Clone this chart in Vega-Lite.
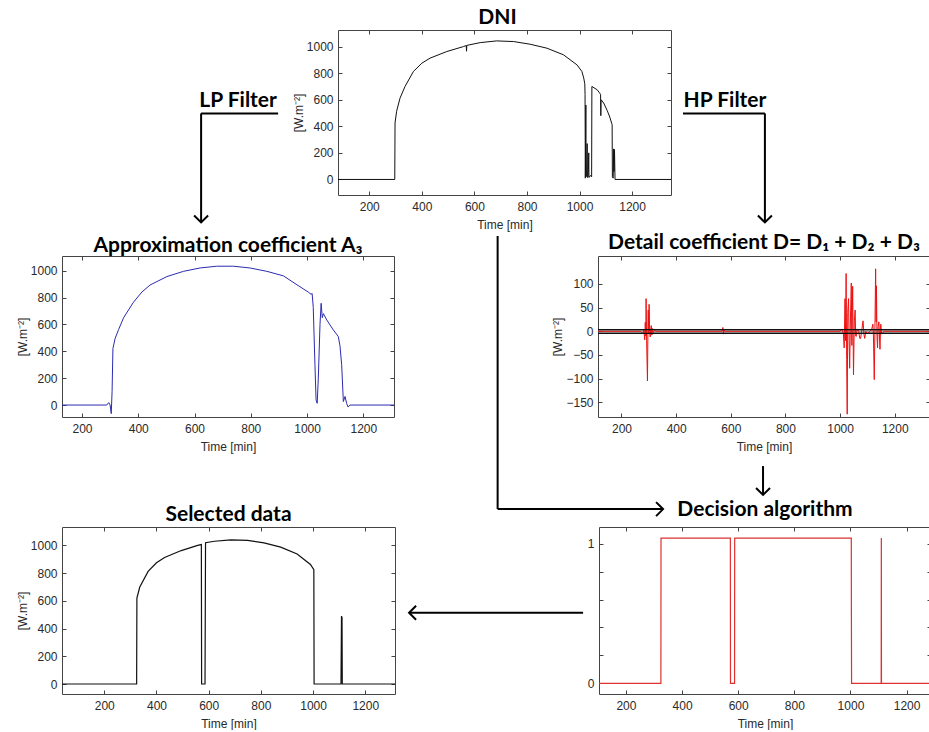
{
  "$schema": "https://vega.github.io/schema/vega-lite/v6.json",
  "padding": {"left": 15, "top": 6, "right": 0, "bottom": 0},
  "background": "white",
  "bounds": "full",
  "spacing": -39,
  "columns": 1,
  "align": "each",
  "config": {
    "view": {"stroke": "#444", "strokeWidth": 1},
    "axis": {"grid": false, "domain": false, "tickColor": "#444", "tickSize": -4, "labelFont": "Liberation Sans", "labelFontSize": 12, "labelColor": "#2a2a2a", "labelPadding": 9, "titleFont": "Liberation Sans", "titleFontSize": 12, "titleFontWeight": "normal", "titleColor": "#2a2a2a", "titlePadding": 4, "format": "d"},
    "axisX": {"labelPadding": 10, "titlePadding": 7},
    "axisY": {"labelPadding": 9, "titlePadding": 1},
    "title": {"font": "Lato", "fontSize": 21, "fontWeight": "bold", "color": "#000", "offset": 3, "anchor": "middle"}
  },
  "datasets": {
    "dni": [
      {"t":80,"v":0},{"t":297,"v":0},{"t":298,"v":425},{"t":304,"v":513},{"t":317,"v":612},{"t":336,"v":700},{"t":368,"v":813},{"t":400,"v":875},{"t":431,"v":913},{"t":495,"v":963},{"t":558,"v":1000},{"t":569,"v":1008},{"t":570,"v":965},{"t":571,"v":1009},{"t":622,"v":1030},{"t":685,"v":1043},{"t":749,"v":1038},{"t":812,"v":1018},{"t":876,"v":988},{"t":939,"v":938},{"t":990,"v":863},{"t":1009,"v":813},{"t":1016,"v":763},{"t":1020,"v":720},{"t":1021,"v":640},{"t":1022,"v":10},{"t":1024,"v":560},{"t":1025,"v":20},{"t":1027,"v":40},{"t":1029,"v":270},{"t":1030,"v":15},{"t":1033,"v":20},{"t":1035,"v":200},{"t":1036,"v":15},{"t":1042,"v":30},{"t":1046,"v":20},{"t":1047,"v":700},{"t":1055,"v":690},{"t":1067,"v":675},{"t":1075,"v":655},{"t":1080,"v":640},{"t":1081,"v":480},{"t":1082,"v":600},{"t":1092,"v":575},{"t":1105,"v":520},{"t":1115,"v":470},{"t":1124,"v":412},{"t":1125,"v":20},{"t":1128,"v":10},{"t":1130,"v":230},{"t":1131,"v":60},{"t":1133,"v":225},{"t":1135,"v":0},{"t":1350,"v":0}
    ],
    "a3": [
      {"t":129,"v":0},{"t":288,"v":0},{"t":295,"v":18},{"t":300,"v":0},{"t":304,"v":-64},{"t":307,"v":100},{"t":310,"v":421},{"t":318,"v":497},{"t":330,"v":561},{"t":348,"v":650},{"t":383,"v":765},{"t":413,"v":841},{"t":442,"v":893},{"t":502,"v":956},{"t":561,"v":995},{"t":620,"v":1020},{"t":679,"v":1033},{"t":738,"v":1033},{"t":797,"v":1020},{"t":857,"v":995},{"t":916,"v":961},{"t":975,"v":880},{"t":1004,"v":841},{"t":1014,"v":824},{"t":1018,"v":830},{"t":1022,"v":727},{"t":1028,"v":300},{"t":1032,"v":38},{"t":1036,"v":13},{"t":1040,"v":200},{"t":1046,"v":600},{"t":1050,"v":757},{"t":1054,"v":650},{"t":1058,"v":680},{"t":1070,"v":633},{"t":1093,"v":560},{"t":1111,"v":510},{"t":1117,"v":441},{"t":1123,"v":300},{"t":1129,"v":26},{"t":1135,"v":64},{"t":1141,"v":10},{"t":1146,"v":-15},{"t":1152,"v":0},{"t":1309,"v":0}
    ],
    "det": [
      {"t":114,"v":0},{"t":270,"v":0},{"t":278,"v":-5},{"t":282,"v":3},{"t":285,"v":-18},{"t":287,"v":19},{"t":289,"v":-10},{"t":290,"v":69},{"t":292,"v":-20},{"t":295,"v":-105},{"t":297,"v":20},{"t":298,"v":45},{"t":300,"v":-5},{"t":301,"v":57},{"t":303,"v":0},{"t":305,"v":-12},{"t":307,"v":5},{"t":309,"v":12},{"t":311,"v":-8},{"t":313,"v":6},{"t":316,"v":-3},{"t":321,"v":2},{"t":326,"v":0},{"t":568,"v":0},{"t":571,"v":8},{"t":573,"v":-6},{"t":575,"v":3},{"t":578,"v":0},{"t":1000,"v":0},{"t":1006,"v":5},{"t":1012,"v":-5},{"t":1015,"v":-35},{"t":1018,"v":69},{"t":1020,"v":-20},{"t":1022,"v":122},{"t":1024,"v":-60},{"t":1026,"v":-175},{"t":1028,"v":40},{"t":1031,"v":69},{"t":1033,"v":-20},{"t":1035,"v":-78},{"t":1038,"v":30},{"t":1041,"v":102},{"t":1043,"v":-30},{"t":1046,"v":95},{"t":1049,"v":-92},{"t":1052,"v":20},{"t":1055,"v":45},{"t":1057,"v":-10},{"t":1059,"v":-11},{"t":1062,"v":5},{"t":1068,"v":0},{"t":1072,"v":-15},{"t":1075,"v":-15},{"t":1080,"v":5},{"t":1084,"v":22},{"t":1087,"v":-5},{"t":1090,"v":-15},{"t":1094,"v":0},{"t":1099,"v":-5},{"t":1110,"v":0},{"t":1115,"v":3},{"t":1120,"v":15},{"t":1122,"v":-10},{"t":1125,"v":-102},{"t":1128,"v":30},{"t":1130,"v":132},{"t":1132,"v":20},{"t":1133,"v":96},{"t":1135,"v":-10},{"t":1137,"v":-35},{"t":1139,"v":10},{"t":1142,"v":20},{"t":1144,"v":-10},{"t":1146,"v":-38},{"t":1148,"v":5},{"t":1149,"v":15},{"t":1152,"v":-5},{"t":1154,"v":-5},{"t":1160,"v":0},{"t":1329,"v":0}
    ],
    "band": [{"t0": 114, "t1": 1329, "lo": -4.5, "hi": 3.5}],
    "sel": [
      {"t":38,"v":0},{"t":324,"v":0},{"t":325,"v":620},{"t":336,"v":700},{"t":368,"v":813},{"t":400,"v":875},{"t":431,"v":913},{"t":495,"v":963},{"t":558,"v":1000},{"t":572,"v":1006},{"t":573,"v":0},{"t":586,"v":0},{"t":587,"v":500},{"t":588,"v":1020},{"t":622,"v":1030},{"t":685,"v":1040},{"t":749,"v":1036},{"t":812,"v":1018},{"t":876,"v":988},{"t":939,"v":938},{"t":990,"v":863},{"t":1003,"v":825},{"t":1004,"v":0},{"t":1107,"v":0},{"t":1108,"v":240},{"t":1109,"v":490},{"t":1111,"v":480},{"t":1112,"v":0},{"t":1314,"v":0}
    ],
    "dec": [
      {"t":104,"v":0},{"t":324.5,"v":0},{"t":325,"v":1.04},{"t":572,"v":1.04},{"t":572.5,"v":0},{"t":587,"v":0},{"t":587.5,"v":1.04},{"t":1003,"v":1.04},{"t":1003.3,"v":0.52},{"t":1004,"v":0},{"t":1109.5,"v":0},{"t":1110,"v":1.04},{"t":1110.5,"v":0},{"t":1290,"v":0}
    ]
  },
  "concat": [
    {
      "bounds": "flush",
      "spacing": 0,
      "hconcat": [
        {
          "width": 276, "height": 215,
          "view": {"stroke": null},
          "layer": [
            {"data": {"values": [{"x1": 78.3, "y1": 38.8, "x2": 50.4, "y2": 38.8}, {"x1": 50.4, "y1": 38.8, "x2": 50.4, "y2": 89.5}]},
             "mark": {"type": "rule", "strokeWidth": 2, "color": "#000"},
             "encoding": {"x": {"field": "x1", "type": "quantitative", "scale": {"domain": [0, 100], "nice": false, "zero": false}, "axis": null}, "x2": {"field": "x2"}, "y": {"field": "y1", "type": "quantitative", "scale": {"domain": [0, 100], "reverse": true, "nice": false, "zero": false}, "axis": null}, "y2": {"field": "y2"}}},
            {"data": {"values": [{"x1": 50.4, "y1": 89.5, "a": 90}]},
             "mark": {"type": "point", "shape": "M-1,-1L0,0L-1,1", "filled": false, "size": 196, "strokeWidth": 2, "color": "#000", "opacity": 1},
             "encoding": {"x": {"field": "x1", "type": "quantitative"}, "y": {"field": "y1", "type": "quantitative"}, "angle": {"field": "a", "type": "quantitative", "scale": null}}},
            {"data": {"values": [{"x1": 63.8, "y1": 32.8, "label": "LP Filter"}]},
             "mark": {"type": "text", "font": "Lato", "fontSize": 21, "fontWeight": "bold", "color": "#000", "baseline": "middle"},
             "encoding": {"x": {"field": "x1", "type": "quantitative"}, "y": {"field": "y1", "type": "quantitative"}, "text": {"field": "label"}}}
          ]
        },
        {
          "width": 333, "height": 165,
          "title": {"text": "DNI", "dx": -7, "offset": 2},
          "data": {"name": "dni"},
          "layer": [
            {"mark": {"type": "line", "color": "#111", "strokeWidth": 1, "clip": true},
             "encoding": {
               "x": {"field": "t", "type": "quantitative", "scale": {"domain": [81, 1348], "nice": false, "zero": false}, "axis": {"values": [200, 400, 600, 800, 1000, 1200], "title": "Time [min]"}},
               "y": {"field": "v", "type": "quantitative", "scale": {"domain": [-117, 1125], "nice": false, "zero": false}, "axis": {"values": [0, 200, 400, 600, 800, 1000], "title": "[W.m⁻²]"}}}},
            {"mark": {"type": "line", "opacity": 0, "clip": true},
             "encoding": {
               "x": {"field": "t", "type": "quantitative", "axis": {"orient": "top", "values": [200, 400, 600, 800, 1000, 1200], "labels": false, "title": null}},
               "y": {"field": "v", "type": "quantitative", "axis": {"orient": "right", "values": [0, 200, 400, 600, 800, 1000], "labels": false, "title": null}}}}
          ],
          "resolve": {"axis": {"x": "independent", "y": "independent"}}
        },
        {
          "width": 258, "height": 215,
          "view": {"stroke": null},
          "layer": [
            {"data": {"values": [{"x1": 4.65, "y1": 38.8, "x2": 36.4, "y2": 38.8}, {"x1": 36.4, "y1": 38.8, "x2": 36.4, "y2": 89.5}]},
             "mark": {"type": "rule", "strokeWidth": 2, "color": "#000"},
             "encoding": {"x": {"field": "x1", "type": "quantitative", "scale": {"domain": [0, 100], "nice": false, "zero": false}, "axis": null}, "x2": {"field": "x2"}, "y": {"field": "y1", "type": "quantitative", "scale": {"domain": [0, 100], "reverse": true, "nice": false, "zero": false}, "axis": null}, "y2": {"field": "y2"}}},
            {"data": {"values": [{"x1": 36.4, "y1": 89.5, "a": 90}]},
             "mark": {"type": "point", "shape": "M-1,-1L0,0L-1,1", "filled": false, "size": 196, "strokeWidth": 2, "color": "#000", "opacity": 1},
             "encoding": {"x": {"field": "x1", "type": "quantitative"}, "y": {"field": "y1", "type": "quantitative"}, "angle": {"field": "a", "type": "quantitative", "scale": null}}},
            {"data": {"values": [{"x1": 20.9, "y1": 32.8, "label": "HP Filter"}]},
             "mark": {"type": "text", "font": "Lato", "fontSize": 21, "fontWeight": "bold", "color": "#000", "baseline": "middle"},
             "encoding": {"x": {"field": "x1", "type": "quantitative"}, "y": {"field": "y1", "type": "quantitative"}, "text": {"field": "label"}}}
          ]
        }
      ]
    },
    {
      "bounds": "flush",
      "spacing": 0,
      "hconcat": [
        {
          "width": 332, "height": 161,
          "title": {"text": "Approximation coefficient A₃", "offset": 0},
          "data": {"name": "a3"},
          "layer": [
            {"mark": {"type": "line", "color": "#2b2bb0", "strokeWidth": 1, "clip": true},
             "encoding": {
               "x": {"field": "t", "type": "quantitative", "scale": {"domain": [129, 1309], "nice": false, "zero": false}, "axis": {"values": [200, 400, 600, 800, 1000, 1200], "title": "Time [min]"}},
               "y": {"field": "v", "type": "quantitative", "scale": {"domain": [-89, 1109], "nice": false, "zero": false}, "axis": {"values": [0, 200, 400, 600, 800, 1000], "title": "[W.m⁻²]"}}}},
            {"mark": {"type": "line", "opacity": 0, "clip": true},
             "encoding": {
               "x": {"field": "t", "type": "quantitative", "axis": {"orient": "top", "values": [200, 400, 600, 800, 1000, 1200], "labels": false, "title": null}},
               "y": {"field": "v", "type": "quantitative", "axis": {"orient": "right", "values": [0, 200, 400, 600, 800, 1000], "labels": false, "title": null}}}}
          ],
          "resolve": {"axis": {"x": "independent", "y": "independent"}}
        },
        {
          "width": 204, "height": 262,
          "view": {"stroke": null},
          "layer": [
            {"data": {"values": [{"x1": 50.8, "y1": -7.63, "x2": 50.8, "y2": 96.6}, {"x1": 50.8, "y1": 96.6, "x2": 131.9, "y2": 96.6}, {"x1": 180.9, "y1": 80.2, "x2": 180.9, "y2": 91.2}]},
             "mark": {"type": "rule", "strokeWidth": 2, "color": "#000"},
             "encoding": {"x": {"field": "x1", "type": "quantitative", "scale": {"domain": [0, 100], "nice": false, "zero": false}, "axis": null}, "x2": {"field": "x2"}, "y": {"field": "y1", "type": "quantitative", "scale": {"domain": [0, 100], "reverse": true, "nice": false, "zero": false}, "axis": null}, "y2": {"field": "y2"}}},
            {"data": {"values": [{"x1": 1, "y1": -19.08, "x2": 1, "y2": 0}]},
             "mark": {"type": "rule", "strokeWidth": 1, "color": "#fff", "opacity": 0},
             "encoding": {"x": {"field": "x1", "type": "quantitative"}, "x2": {"field": "x2"}, "y": {"field": "y1", "type": "quantitative"}, "y2": {"field": "y2"}}},
            {"data": {"values": [{"x1": 131.9, "y1": 96.6, "a": 0}, {"x1": 180.9, "y1": 91.2, "a": 90}]},
             "mark": {"type": "point", "shape": "M-1,-1L0,0L-1,1", "filled": false, "size": 196, "strokeWidth": 2, "color": "#000", "opacity": 1},
             "encoding": {"x": {"field": "x1", "type": "quantitative"}, "y": {"field": "y1", "type": "quantitative"}, "angle": {"field": "a", "type": "quantitative", "scale": null}}}
          ]
        },
        {
          "width": 332, "height": 161,
          "title": {"text": "Detail coefficient D= D₁ + D₂ + D₃", "offset": 3},
          "layer": [
            {"data": {"name": "band"},
             "mark": {"type": "rect", "color": "#666", "opacity": 0.55},
             "encoding": {
               "x": {"field": "t0", "type": "quantitative", "scale": {"domain": [114, 1329], "nice": false, "zero": false}, "axis": {"values": [200, 400, 600, 800, 1000, 1200], "title": "Time [min]"}},
               "x2": {"field": "t1"},
               "y": {"field": "lo", "type": "quantitative", "scale": {"domain": [-181, 159], "nice": false, "zero": false}, "axis": {"values": [-150, -100, -50, 0, 50, 100], "title": "[W.m⁻²]"}},
               "y2": {"field": "hi"}}},
            {"data": {"name": "det"},
             "mark": {"type": "line", "color": "#ee1111", "strokeWidth": 1, "clip": true},
             "encoding": {
               "x": {"field": "t", "type": "quantitative", "axis": null},
               "y": {"field": "v", "type": "quantitative", "axis": null}}},
            {"data": {"name": "band"},
             "mark": {"type": "rule", "color": "#111", "strokeWidth": 1.2},
             "encoding": {"x": {"field": "t0", "type": "quantitative", "axis": null}, "x2": {"field": "t1"}, "y": {"field": "lo", "type": "quantitative", "axis": null}}},
            {"data": {"name": "band"},
             "mark": {"type": "rule", "color": "#111", "strokeWidth": 1.2},
             "encoding": {"x": {"field": "t0", "type": "quantitative", "axis": null}, "x2": {"field": "t1"}, "y": {"field": "hi", "type": "quantitative", "axis": null}}},
            {"data": {"name": "det"},
             "mark": {"type": "line", "opacity": 0, "clip": true},
             "encoding": {
               "x": {"field": "t", "type": "quantitative", "axis": {"orient": "top", "values": [200, 400, 600, 800, 1000, 1200], "labels": false, "title": null}},
               "y": {"field": "v", "type": "quantitative", "axis": {"orient": "right", "values": [-150, -100, -50, 0, 50, 100], "labels": false, "title": null}}}}
          ],
          "resolve": {"axis": {"x": "independent", "y": "independent"}}
        }
      ]
    },
    {
      "bounds": "flush",
      "spacing": 0,
      "hconcat": [
        {
          "width": 333, "height": 167,
          "title": {"text": "Selected data", "offset": 2},
          "data": {"name": "sel"},
          "layer": [
            {"mark": {"type": "line", "color": "#111", "strokeWidth": 1.2, "clip": true},
             "encoding": {
               "x": {"field": "t", "type": "quantitative", "scale": {"domain": [38, 1314], "nice": false, "zero": false}, "axis": {"values": [200, 400, 600, 800, 1000, 1200], "title": "Time [min]"}},
               "y": {"field": "v", "type": "quantitative", "scale": {"domain": [-72, 1133], "nice": false, "zero": false}, "axis": {"values": [0, 200, 400, 600, 800, 1000], "title": "[W.m⁻²]"}}}},
            {"mark": {"type": "line", "opacity": 0, "clip": true},
             "encoding": {
               "x": {"field": "t", "type": "quantitative", "axis": {"orient": "top", "values": [200, 400, 600, 800, 1000, 1200], "labels": false, "title": null}},
               "y": {"field": "v", "type": "quantitative", "axis": {"orient": "right", "values": [0, 200, 400, 600, 800, 1000], "labels": false, "title": null}}}}
          ],
          "resolve": {"axis": {"x": "independent", "y": "independent"}}
        },
        {
          "width": 204, "height": 167,
          "view": {"stroke": null},
          "layer": [
            {"data": {"values": [{"x1": 92.2, "y1": 51.3, "x2": 6.9, "y2": 51.3}]},
             "mark": {"type": "rule", "strokeWidth": 2, "color": "#000"},
             "encoding": {"x": {"field": "x1", "type": "quantitative", "scale": {"domain": [0, 100], "nice": false, "zero": false}, "axis": null}, "x2": {"field": "x2"}, "y": {"field": "y1", "type": "quantitative", "scale": {"domain": [0, 100], "reverse": true, "nice": false, "zero": false}, "axis": null}, "y2": {"field": "y2"}}},
            {"data": {"values": [{"x1": 1, "y1": -26.65, "x2": 1, "y2": 0}]},
             "mark": {"type": "rule", "strokeWidth": 1, "color": "#fff", "opacity": 0},
             "encoding": {"x": {"field": "x1", "type": "quantitative"}, "x2": {"field": "x2"}, "y": {"field": "y1", "type": "quantitative"}, "y2": {"field": "y2"}}},
            {"data": {"values": [{"x1": 6.9, "y1": 51.3, "a": 180}]},
             "mark": {"type": "point", "shape": "M-1,-1L0,0L-1,1", "filled": false, "size": 196, "strokeWidth": 2, "color": "#000", "opacity": 1},
             "encoding": {"x": {"field": "x1", "type": "quantitative"}, "y": {"field": "y1", "type": "quantitative"}, "angle": {"field": "a", "type": "quantitative", "scale": null}}}
          ]
        },
        {
          "width": 332, "height": 167,
          "title": {"text": "Decision algorithm", "offset": 7},
          "data": {"name": "dec"},
          "layer": [
            {"mark": {"type": "line", "color": "#e03030", "strokeWidth": 1.2, "clip": true},
             "encoding": {
               "x": {"field": "t", "type": "quantitative", "scale": {"domain": [104, 1287], "nice": false, "zero": false}, "axis": {"values": [200, 400, 600, 800, 1000, 1200], "title": "Time [min]"}},
               "y": {"field": "v", "type": "quantitative", "scale": {"domain": [-0.076, 1.119], "nice": false, "zero": false}, "axis": {"values": [0, 0.2, 0.4, 0.6, 0.8, 1], "title": null, "labelExpr": "datum.value == 0 ? '0' : (datum.value == 1 ? '1' : '')"}}}},
            {"mark": {"type": "line", "opacity": 0, "clip": true},
             "encoding": {
               "x": {"field": "t", "type": "quantitative", "axis": {"orient": "top", "values": [200, 400, 600, 800, 1000, 1200], "labels": false, "title": null}},
               "y": {"field": "v", "type": "quantitative", "axis": {"orient": "right", "values": [0, 0.2, 0.4, 0.6, 0.8, 1], "labels": false, "title": null}}}}
          ],
          "resolve": {"axis": {"x": "independent", "y": "independent"}}
        }
      ]
    }
  ]
}
